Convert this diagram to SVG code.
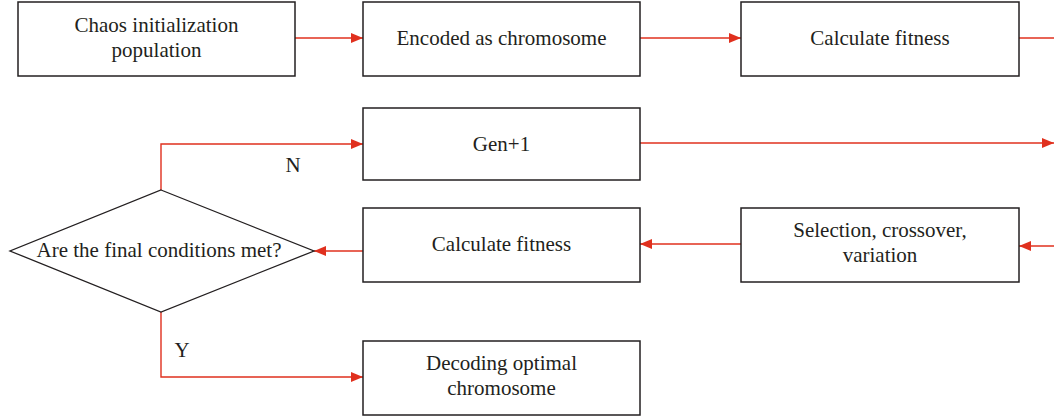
<svg xmlns="http://www.w3.org/2000/svg" width="1054" height="417" viewBox="0 0 1054 417">
<defs>
<marker id="ah" viewBox="0 0 12 10" refX="12" refY="5" markerWidth="12" markerHeight="10" markerUnits="userSpaceOnUse" orient="auto">
<path d="M0,0 L12,5 L0,10 Z" fill="#e0301e"/>
</marker>
<style>
.box{fill:#fff;stroke:#231f20;stroke-width:1.5}
.t{font-size:21px;fill:#231f20;text-anchor:middle}
.c{fill:none;stroke:#e0301e;stroke-width:1.4}
</style>
</defs>
<rect width="1054" height="417" fill="#fff"/>
<g font-family="'Liberation Serif', 'DejaVu Serif', serif">
<g id="connectors">
<line class="c" x1="295" y1="38" x2="363" y2="38" marker-end="url(#ah)"/>
<line class="c" x1="640" y1="38" x2="741" y2="38" marker-end="url(#ah)"/>
<line class="c" x1="1019" y1="38" x2="1054" y2="38"/>
<line class="c" x1="640" y1="143" x2="1054" y2="143" marker-end="url(#ah)"/>
<line class="c" x1="1054" y1="246" x2="1019" y2="246" marker-end="url(#ah)"/>
<line class="c" x1="741" y1="244" x2="640" y2="244" marker-end="url(#ah)"/>
<line class="c" x1="363" y1="251" x2="314" y2="251" marker-end="url(#ah)"/>
<polyline class="c" points="161,190 161,144 363,144" marker-end="url(#ah)"/>
<polyline class="c" points="161,312 161,377 363,377" marker-end="url(#ah)"/>
<text class="t" x="293" y="172">N</text>
<text class="t" x="182" y="357">Y</text>
</g>
<g id="n1">
<rect class="box" x="18" y="2" width="277" height="74"/>
<text class="t" x="156.5" y="32">Chaos initialization</text>
<text class="t" x="156.5" y="57">population</text>
</g>
<g id="n2">
<rect class="box" x="363" y="2" width="277" height="74"/>
<text class="t" x="501.5" y="45">Encoded as chromosome</text>
</g>
<g id="n3">
<rect class="box" x="741" y="2" width="278" height="74"/>
<text class="t" x="880" y="45">Calculate fitness</text>
</g>
<g id="n4">
<rect class="box" x="363" y="108" width="277" height="72"/>
<text class="t" x="501.5" y="151">Gen+1</text>
</g>
<g id="n5">
<rect class="box" x="741" y="208" width="278" height="74"/>
<text class="t" x="880" y="237">Selection, crossover,</text>
<text class="t" x="880" y="262">variation</text>
</g>
<g id="n6">
<rect class="box" x="363" y="208" width="277" height="74"/>
<text class="t" x="501.5" y="251">Calculate fitness</text>
</g>
<g id="n7">
<polygon class="box" points="161,190 314,251 161,312 10,251" style="stroke-width:1.3"/>
<text class="t" x="159" y="257">Are the final conditions met?</text>
</g>
<g id="n8">
<rect class="box" x="363" y="341" width="277" height="74"/>
<text class="t" x="501.5" y="370">Decoding optimal</text>
<text class="t" x="501.5" y="395">chromosome</text>
</g>
</g>
</svg>
